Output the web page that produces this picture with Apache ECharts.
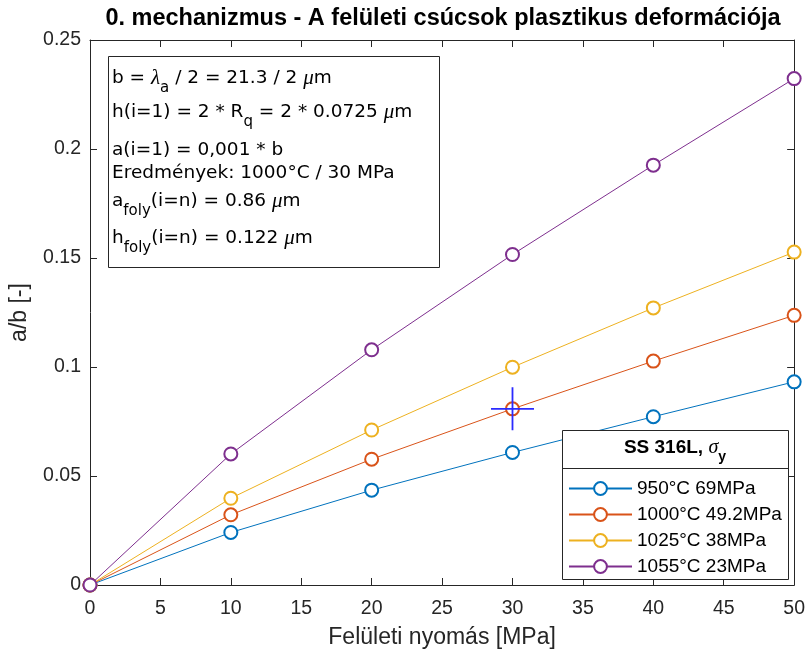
<!DOCTYPE html>
<html>
<head>
<meta charset="utf-8">
<script src="https://cdn.jsdelivr.net/npm/echarts@6/dist/echarts.min.js"></script>
<style>
  html, body { margin: 0; padding: 0; background: #ffffff; }
  #chart { width: 808px; height: 654px; }
</style>
</head>
<body>
<div id="chart"></div>
<script>
// Surface pressure [MPa] and relative contact half-width a/b for each temperature
const pressure = [0, 10, 20, 30, 40, 50];
const ratio950 = [0, 0.0241, 0.0435, 0.0608, 0.0772, 0.0932];
const ratio1000 = [0, 0.0322, 0.0577, 0.0808, 0.1027, 0.1237];
const ratio1025 = [0, 0.0398, 0.0711, 0.0999, 0.1271, 0.1527];
const ratio1055 = [0, 0.0601, 0.1079, 0.1516, 0.1926, 0.2323];
const seriesNames = ['950°C 69MPa', '1000°C 49.2MPa', '1025°C 38MPa', '1055°C 23MPa'];
const seriesColors = ['#0072BD', '#D95319', '#EDB120', '#7E2F8E'];

// Highlighted result: 1000°C / 30 MPa, a = 0.86 µm, b = 21.3 / 2 µm
const resultPressure = 30;
const resultRatio = 0.0808;

// Axis ranges
const xMin = 0, xMax = 50, xStep = 5;
const yMin = 0, yMax = 0.25, yStep = 0.05;

const titleText = '0. mechanizmus - A felületi csúcsok plasztikus deformációja';
const xName = 'Felületi nyomás [MPa]';
const yName = 'a/b [-]';

// Annotation lines: [text, kind] where kind is n (normal), sub (subscript), g (greek)
const infoLines = [
  [['b = '], ['λ', 'g'], ['a', 'sub'], [' / 2 = 21.3 / 2 '], ['μ', 'g'], ['m']],
  [['h(i=1) = 2 * R'], ['q', 'sub'], [' = 2 * 0.0725 '], ['μ', 'g'], ['m']],
  [['a(i=1) = 0,001 * b']],
  [['Eredmények: 1000°C / 30 MPa']],
  [['a'], ['foly', 'sub'], ['(i=n) = 0.86 '], ['μ', 'g'], ['m']],
  [['h'], ['foly', 'sub'], ['(i=n) = 0.122 '], ['μ', 'g'], ['m']]
];
const legendTitle = [['SS 316L, ', 'b'], ['σ', 'g2'], ['y', 'subb']];

const SANS = '"Liberation Sans", Arial, Helvetica, sans-serif';
const WIDE = '"DejaVu Sans", "Liberation Sans", Arial, sans-serif';
const SERIF = '"Liberation Serif", "Times New Roman", serif';
const INK = '#262626';

const fontSpecs = {
  n:    { fontSize: 18.5, fontFamily: WIDE, fontStyle: 'normal', fontWeight: 'normal', dy: 0 },
  sub:  { fontSize: 15, fontFamily: WIDE, fontStyle: 'normal', fontWeight: 'normal', dy: 10 },
  g:    { fontSize: 21, fontFamily: SERIF, fontStyle: 'italic', fontWeight: 'normal', dy: 0 },
  g2:   { fontSize: 20, fontFamily: SERIF, fontStyle: 'italic', fontWeight: 'normal', dy: 0 },
  b:    { fontSize: 19, fontFamily: SANS, fontStyle: 'normal', fontWeight: 'bold', dy: 0 },
  subb: { fontSize: 14, fontFamily: SANS, fontStyle: 'normal', fontWeight: 'bold', dy: 9 }
};

const measureCtx = document.createElement('canvas').getContext('2d');
function cssFont(s) {
  return s.fontStyle + ' ' + s.fontWeight + ' ' + s.fontSize + 'px ' + s.fontFamily;
}
function segWidth(text, spec) {
  measureCtx.font = cssFont(spec);
  return measureCtx.measureText(text).width;
}

// Lay out a line of mixed-style text segments starting at x (or centred on x)
function buildLine(segments, x, y, centred) {
  const parts = segments.map(function (s) {
    const spec = fontSpecs[s[1] || 'n'];
    return { text: s[0], spec: spec, w: segWidth(s[0], spec) };
  });
  const total = parts.reduce(function (a, p) { return a + p.w; }, 0);
  let cx = centred ? x - total / 2 : x;
  return parts.map(function (p) {
    const el = {
      type: 'text',
      x: cx,
      y: y + p.spec.dy,
      z: 30,
      style: {
        text: p.text,
        fill: '#000000',
        fontSize: p.spec.fontSize,
        fontFamily: p.spec.fontFamily,
        fontStyle: p.spec.fontStyle,
        fontWeight: p.spec.fontWeight,
        align: 'left',
        verticalAlign: 'middle'
      }
    };
    cx += p.w;
    return el;
  });
}

const infoLineY = [78, 112, 150, 173, 201, 238];
let graphics = [
  {
    type: 'text', x: 443, y: 19, z: 30,
    style: { text: titleText, fill: '#000000', fontSize: 23.5, fontWeight: 'bold',
             fontFamily: SANS, align: 'center', verticalAlign: 'middle' }
  },
  {
    type: 'rect', z: 20,
    shape: { x: 108.5, y: 56.5, width: 331, height: 211 },
    style: { fill: '#ffffff', stroke: INK, lineWidth: 1 }
  },
  {
    type: 'rect', z: 20,
    shape: { x: 562.5, y: 430.5, width: 226, height: 149 },
    style: { fill: '#ffffff', stroke: INK, lineWidth: 1 }
  },
  {
    type: 'line', z: 21,
    shape: { x1: 562.5, y1: 468.5, x2: 788.5, y2: 468.5 },
    style: { stroke: INK, lineWidth: 1 }
  }
];
infoLines.forEach(function (line, i) {
  graphics = graphics.concat(buildLine(line, 112, infoLineY[i], false));
});
graphics = graphics.concat(buildLine(legendTitle, 675, 448, true));

function pairs(values) {
  return pressure.map(function (p, i) { return [p, values[i]]; });
}
const allRatios = [ratio950, ratio1000, ratio1025, ratio1055];

const lineSeries = allRatios.map(function (vals, i) {
  return {
    name: seriesNames[i],
    type: 'line',
    data: pairs(vals),
    symbol: 'emptyCircle',
    symbolSize: 13,
    showAllSymbol: true,
    color: seriesColors[i],
    lineStyle: { width: 1, color: seriesColors[i] },
    itemStyle: { color: seriesColors[i], borderWidth: 1.2, borderColor: seriesColors[i] },
    emphasis: { disabled: true },
    z: 3 + i
  };
});

const markerSeries = {
  name: 'eredmeny',
  type: 'scatter',
  data: [[resultPressure, resultRatio]],
  symbol: 'path://M-1,0L1,0M0,-1L0,1',
  symbolSize: 43,
  itemStyle: { color: 'none', borderColor: '#2b2bff', borderWidth: 1.8, opacity: 1 },
  emphasis: { disabled: true },
  z: 10
};

function axisBase(min, max, step) {
  return {
    type: 'value', min: min, max: max, interval: step,
    axisLine: { show: true, onZero: false, lineStyle: { color: INK, width: 1 } },
    axisTick: { show: true, inside: true, length: 7, lineStyle: { color: INK, width: 1 } },
    splitLine: { show: false }
  };
}

const chart = echarts.init(document.getElementById('chart'), null, { renderer: 'canvas' });
chart.setOption({
  animation: false,
  backgroundColor: '#ffffff',
  grid: { left: 90, right: 13, top: 40, bottom: 66, containLabel: false },
  xAxis: [
    Object.assign(axisBase(xMin, xMax, xStep), {
      position: 'bottom',
      axisLabel: { fontSize: 19.5, color: INK, margin: 14, fontFamily: SANS },
      name: xName, nameLocation: 'middle', nameGap: 41,
      nameTextStyle: { fontSize: 23, color: INK, fontFamily: SANS }
    }),
    Object.assign(axisBase(xMin, xMax, xStep), {
      position: 'top', axisLabel: { show: false }
    })
  ],
  yAxis: [
    Object.assign(axisBase(yMin, yMax, yStep), {
      position: 'left',
      axisLabel: { fontSize: 19.5, color: INK, margin: 9, fontFamily: SANS },
      name: yName, nameLocation: 'middle', nameGap: 59, nameRotate: 90,
      nameTextStyle: { fontSize: 23, color: INK, fontFamily: SANS }
    }),
    Object.assign(axisBase(yMin, yMax, yStep), {
      position: 'right', axisLabel: { show: false }
    })
  ],
  legend: {
    data: seriesNames,
    orient: 'vertical',
    left: 568,
    top: 479,
    padding: 0,
    itemWidth: 63,
    itemHeight: 16,
    itemGap: 7,
    z: 40,
    selectedMode: false,
    itemStyle: { borderWidth: 1.3 },
    textStyle: { fontSize: 19, color: '#000000', fontFamily: SANS }
  },
  graphic: graphics,
  series: lineSeries.concat([markerSeries])
});
</script>
</body>
</html>
